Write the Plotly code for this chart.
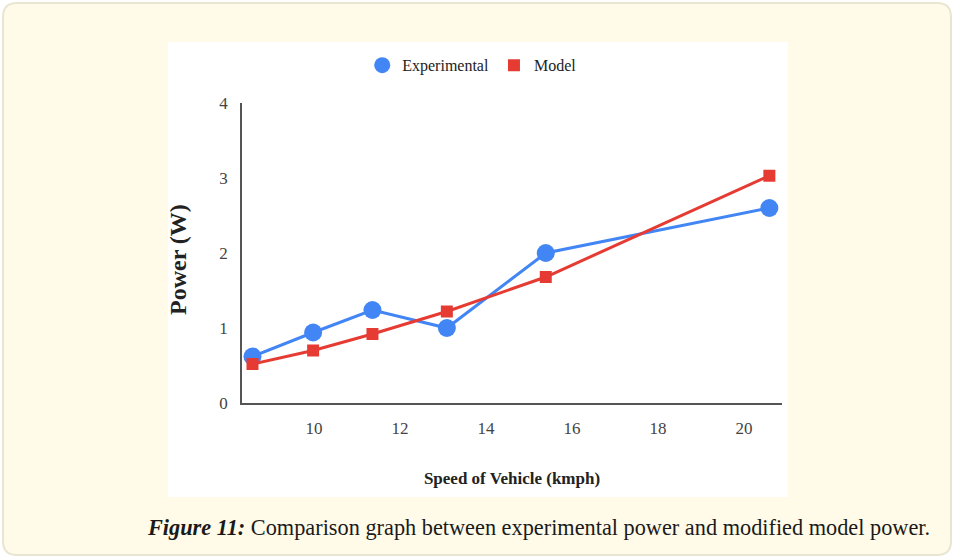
import plotly.graph_objects as go

# ---- data ----
speed = [8.57, 9.98, 11.36, 13.09, 15.39, 20.59]
experimental = [0.62, 0.94, 1.24, 1.00, 2.00, 2.60]
model = [0.52, 0.70, 0.92, 1.22, 1.68, 3.03]
x_ticks = [10, 12, 14, 16, 18, 20]
y_ticks = [0, 1, 2, 3, 4]

BLUE = "#4285F4"
RED = "#E63B33"
CREAM = "#FFFBE8"
SERIF = "Liberation Serif"

# plot area geometry (pixels)
FW, FH = 954, 558
L, R, T, B = 242, 782, 103, 403
PW, PH = R - L, B - T


def px(x):
    return (x - L) / PW


def py(y):
    return (B - y) / PH


def rounded(x0, y0, x1, y1, r):
    return (
        f"M {px(x0 + r)} {py(y0)} L {px(x1 - r)} {py(y0)} "
        f"Q {px(x1)} {py(y0)} {px(x1)} {py(y0 + r)} "
        f"L {px(x1)} {py(y1 - r)} Q {px(x1)} {py(y1)} {px(x1 - r)} {py(y1)} "
        f"L {px(x0 + r)} {py(y1)} Q {px(x0)} {py(y1)} {px(x0)} {py(y1 - r)} "
        f"L {px(x0)} {py(y0 + r)} Q {px(x0)} {py(y0)} {px(x0 + r)} {py(y0)} Z"
    )


fig = go.Figure()

fig.add_trace(go.Scatter(
    x=speed, y=experimental, mode="lines+markers", name="Experimental",
    line=dict(color=BLUE, width=3),
    marker=dict(symbol="circle", size=18, color=BLUE),
    showlegend=False,
))
fig.add_trace(go.Scatter(
    x=speed, y=model, mode="lines+markers", name="Model",
    line=dict(color=RED, width=3),
    marker=dict(symbol="square", size=12, color=RED),
    showlegend=False,
))
# legend entries (markers only)
fig.add_trace(go.Scatter(
    x=[None], y=[None], mode="markers", name="Experimental",
    marker=dict(symbol="circle", size=17, color=BLUE),
))
fig.add_trace(go.Scatter(
    x=[None], y=[None], mode="markers", name="Model",
    marker=dict(symbol="square", size=12, color=RED),
))

shapes = [
    dict(type="path", xref="paper", yref="paper", layer="below",
         path=rounded(3, 3, 951, 555, 14),
         fillcolor=CREAM, line=dict(color="#E9E5D3", width=2)),
    dict(type="rect", xref="paper", yref="paper", layer="below",
         x0=px(168), x1=px(788), y0=py(42), y1=py(497),
         fillcolor="white", line=dict(width=0)),
]

fig.update_layout(
    width=FW, height=FH,
    margin=dict(l=L, r=FW - R, t=T, b=FH - B),
    paper_bgcolor="white",
    plot_bgcolor="rgba(0,0,0,0)",
    shapes=shapes,
    font=dict(family=SERIF, color="#333333"),
    legend=dict(
        orientation="h", xref="container", yref="container",
        x=0.495, y=0.883, xanchor="center", yanchor="middle",
        font=dict(family=SERIF, size=16, color="#222222"),
        bgcolor="rgba(0,0,0,0)", itemwidth=30,
    ),
    xaxis=dict(
        range=[8.326, 20.884], tickvals=x_ticks, ticktext=[str(v) for v in x_ticks],
        showgrid=False, zeroline=False, showline=True, linecolor="#555555", linewidth=1.5,
        ticks="", ticklabelstandoff=9,
        tickfont=dict(family=SERIF, size=17, color="#444444"),
        title=dict(text="<b>Speed of Vehicle (kmph)</b>", standoff=35,
                   font=dict(family=SERIF, size=17, color="#222222")),
    ),
    yaxis=dict(
        range=[0, 4], tickvals=y_ticks, ticktext=[str(v) for v in y_ticks],
        showgrid=False, zeroline=False, showline=True, linecolor="#555555", linewidth=1.5,
        ticks="", ticklabelstandoff=9,
        tickfont=dict(family=SERIF, size=17, color="#444444"),
    ),
    annotations=[
        dict(
            xref="paper", yref="paper", x=px(178), y=py(260),
            xanchor="center", yanchor="middle", showarrow=False, textangle=-90,
            text="<b>Power (W)</b>",
            font=dict(family=SERIF, size=24, color="#222222"),
        ),
        dict(
            xref="paper", yref="paper", x=px(538), y=py(527),
            xanchor="center", yanchor="middle", showarrow=False,
            text="<b><i>Figure 11:</i></b> Comparison graph between experimental power and modified model power.",
            font=dict(family=SERIF, size=22.3, color="#1a1a1a"),
        ),
    ],
)

fig.write_html(
    "out.html",
    config={"displayModeBar": False},
    post_script="document.body.style.margin='0';document.body.style.overflow='hidden';",
)
